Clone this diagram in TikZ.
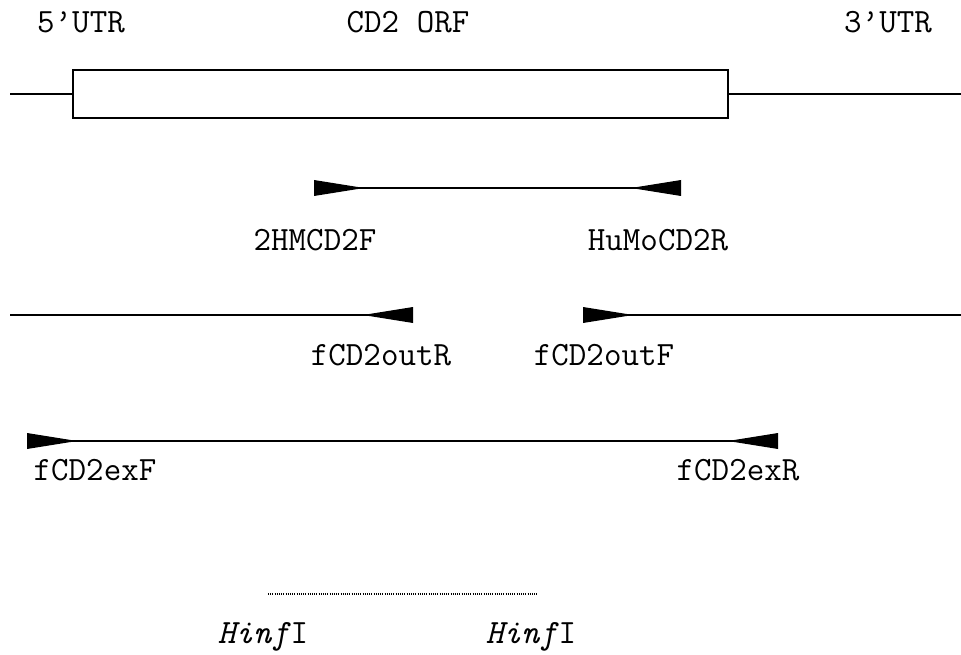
\documentclass[tikz,border=0pt]{standalone}
\usepackage{fontspec}
\begin{document}
\begin{tikzpicture}[x=1pt,y=-1pt,
  lbl/.style={font=\ttfamily\fontsize{34}{38}\selectfont, inner sep=0pt},
  seq/.style={line width=1.4pt},
  headR/.pic={\fill (0,-8) -- (0,8) -- (50,0) -- cycle;},
  headL/.pic={\fill (0,-8) -- (0,8) -- (-50,0) -- cycle;}]
\useasboundingbox (0,0) rectangle (961,655);
% labels over the transcript
\node[lbl] (utr5) at (81,22) {5’UTR};
\node[lbl] (orf) at (408,22) {CD2 ORF};
\node[lbl] (utr3) at (888,22) {3’UTR};
% transcript with the open reading frame as a box
\node[draw, line width=1.4pt, minimum width=655pt, minimum height=48pt, inner sep=0pt] (box) at (400.5,94) {};
\coordinate (tl) at (10,94);
\coordinate (tr) at (961,94);
\draw[seq] (tl) -- (box.west);
\draw[seq] (box.east) -- (tr);
% primer pair 2HMCD2F / HuMoCD2R
\coordinate (p1a) at (314,188);
\coordinate (p1b) at (681,188);
\draw[seq] (p1a) -- (p1b);
\pic at (p1a) {headR};
\pic at (p1b) {headL};
\node[lbl] (n2hm) at (315,240) {2HMCD2F};
\node[lbl] (nhumo) at (658,240) {HuMoCD2R};
% outward primers
\coordinate (o1a) at (10,315);
\coordinate (o1b) at (413,315);
\coordinate (o2a) at (583,315);
\coordinate (o2b) at (961,315);
\draw[seq] (o1a) -- (o1b);
\draw[seq] (o2a) -- (o2b);
\pic at (o1b) {headL};
\pic at (o2a) {headR};
\node[lbl] (noutR) at (381,355) {fCD2outR};
\node[lbl] (noutF) at (604,355) {fCD2outF};
% external primer pair
\coordinate (e1) at (27,441);
\coordinate (e2) at (778,441);
\draw[seq] (e1) -- (e2);
\pic at (e1) {headR};
\pic at (e2) {headL};
\node[lbl] (nexF) at (95,470) {fCD2exF};
\node[lbl] (nexR) at (738,470) {fCD2exR};
% HinfI fragment
\node[lbl] (h1) at (263,637) {\textit{Hinf}I};
\node[lbl] (h2) at (531,637) {\textit{Hinf}I};
\coordinate (d1) at (268,594);
\coordinate (d2) at (537,594);
\draw[line width=1.2pt, dash pattern=on 1pt off 1.2pt] (d1) -- (d2);
\end{tikzpicture}
\end{document}
